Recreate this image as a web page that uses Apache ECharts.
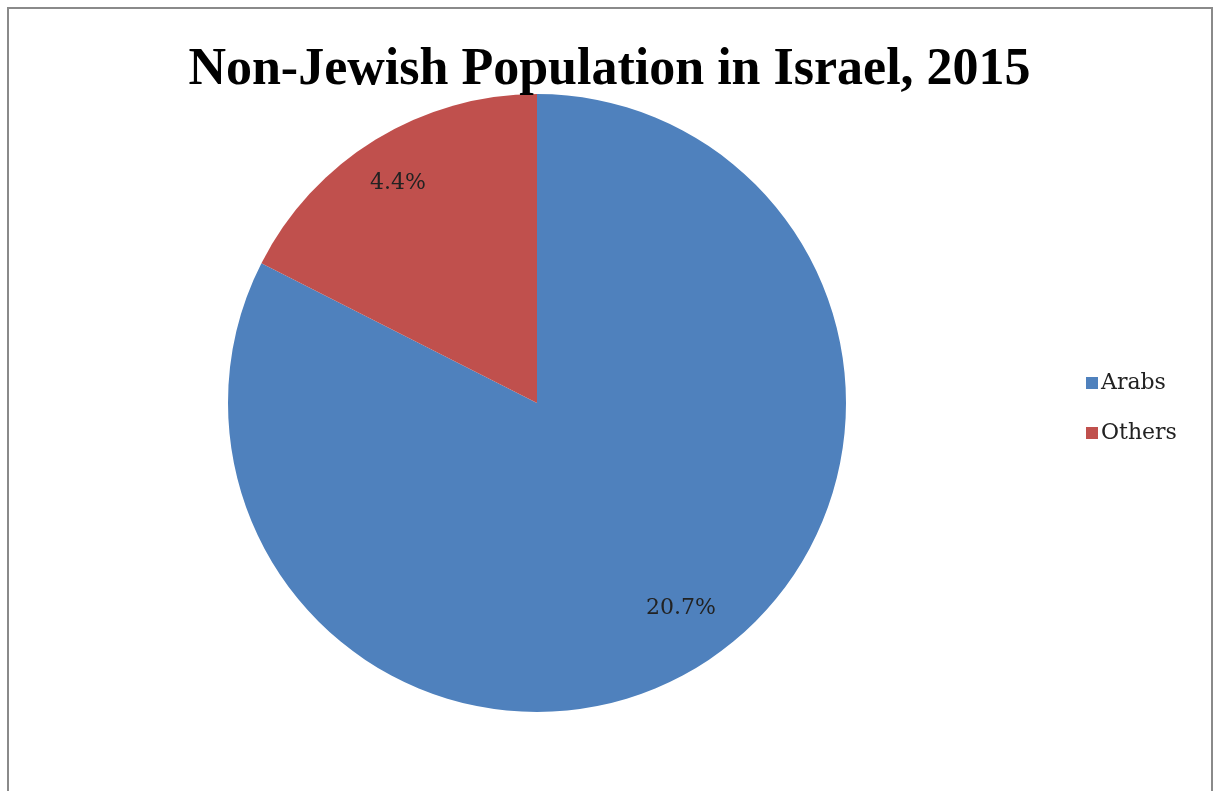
<!DOCTYPE html>
<html>
<head>
<meta charset="utf-8">
<script src="https://cdn.jsdelivr.net/npm/echarts@6/dist/echarts.min.js"></script>
<style>
html,body{margin:0;padding:0;background:#fff;}
#frame{position:absolute;left:7px;top:7px;width:1206px;height:800px;border:2px solid #8a8a8a;border-bottom:none;box-sizing:border-box;}
#chart{position:absolute;left:0;top:0;width:1219px;height:791px;}
</style>
</head>
<body>
<div id="frame"></div>
<div id="chart"></div>
<script>
const titleText = 'Non-Jewish Population in Israel, 2015';
const categories = ['Arabs', 'Others'];
const values = [20.7, 4.4];
const colors = ['#4F81BD', '#C0504D'];
const labelOffsets = [[8, -16], [-3, 2]];

const data = categories.map((c, i) => ({ name: c, value: values[i], itemStyle: { color: colors[i] } }));
const labelData = categories.map((c, i) => ({ name: c, value: values[i], label: { offset: labelOffsets[i] } }));

const chart = echarts.init(document.getElementById('chart'));
chart.setOption({
  animation: false,
  backgroundColor: 'transparent',
  title: {
    text: titleText,
    left: 'center',
    top: 40,
    textStyle: { fontFamily: 'Liberation Serif', fontWeight: 'bold', fontSize: 52, color: '#000' }
  },
  legend: {
    orient: 'vertical',
    left: 1081,
    top: 367,
    itemWidth: 12,
    itemHeight: 12,
    itemGap: 28,
    icon: 'rect',
    data: categories,
    textStyle: { fontFamily: 'DejaVu Serif', fontSize: 22, color: '#222', padding: [0, 0, 0, -2] }
  },
  series: [
    {
      type: 'pie',
      center: [537, 403],
      radius: [0, 309],
      startAngle: 90,
      clockwise: true,
      data: data,
      label: { show: false },
      labelLine: { show: false },
      itemStyle: { borderWidth: 0 },
      emphasis: { disabled: true }
    },
    {
      type: 'pie',
      center: [537, 403],
      radius: [205, 309],
      startAngle: 90,
      clockwise: true,
      silent: true,
      legendHoverLink: false,
      data: labelData,
      itemStyle: { color: 'rgba(0,0,0,0)' },
      label: {
        show: true,
        position: 'inside',
        formatter: p => p.value + '%',
        fontFamily: 'DejaVu Serif',
        fontSize: 22,
        color: '#222'
      },
      labelLine: { show: false },
      emphasis: { disabled: true }
    }
  ]
});
</script>
</body>
</html>
